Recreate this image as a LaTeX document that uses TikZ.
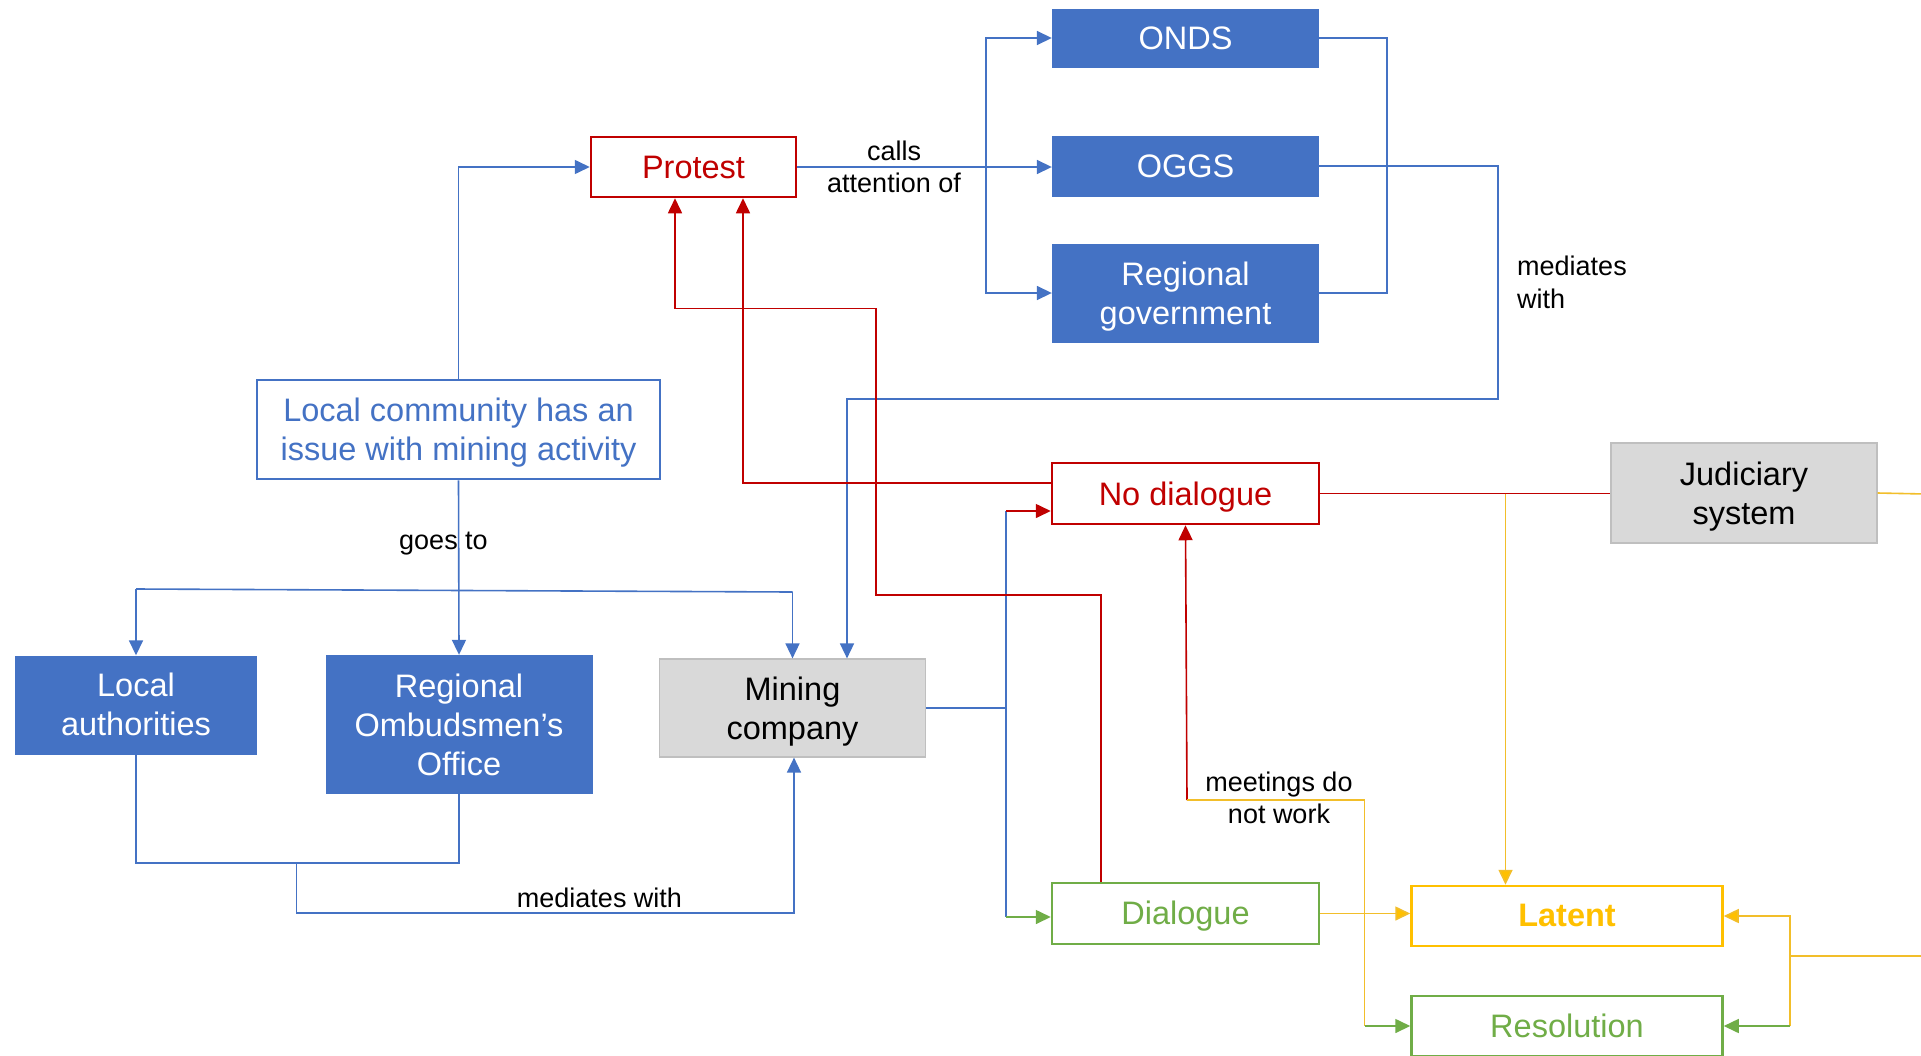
\documentclass[tikz,border=0pt]{standalone}
\usepackage{fontspec}
\setmainfont{Liberation Sans}
\usetikzlibrary{arrows.meta}
\definecolor{cblue}{HTML}{4472C4}
\definecolor{cred}{HTML}{C00000}
\definecolor{cgreen}{HTML}{70AD47}
\definecolor{cgold}{HTML}{FFC000}
\definecolor{cgoldline}{HTML}{F2BE2A}
\definecolor{cgray}{HTML}{D9D9D9}
\definecolor{cgrayb}{HTML}{BFBFBF}
\begin{document}
\begin{tikzpicture}[x=1pt,y=-1pt,
  box/.style={inner sep=0pt, align=center, font=\fontsize{32.5}{39}\selectfont},
  bluebox/.style={box, fill=cblue, text=white},
  redbox/.style={box, draw=cred, line width=2.5pt, fill=white, text=cred},
  greenbox/.style={box, draw=cgreen, line width=2.5pt, fill=white, text=cgreen},
  goldbox/.style={box, draw=cgold, line width=2.5pt, fill=white, text=cgold},
  graybox/.style={box, draw=cgrayb, line width=1.2pt, fill=cgray, text=black},
  outlinebox/.style={box, draw=cblue, line width=2.5pt, fill=white, text=cblue},
  lbl/.style={inner sep=0pt, align=center, font=\fontsize{27}{32.5}\selectfont, text=black},
  conn/.style={line width=1.6pt},
  tip/.style={-{Triangle[length=15pt,width=14pt]}},
  gtip/.style={-{Triangle[length=15pt,width=14pt,fill=cgold]}},
  bl/.style={conn, draw=cblue},
  rd/.style={conn, draw=cred},
  gn/.style={conn, draw=cgreen},
  gd/.style={conn, draw=cgoldline}]
\path[use as bounding box, fill=white] (0,0) rectangle (1921,1055);

% boxes
\node[bluebox, minimum width=267pt, minimum height=59pt] (onds) at (1185.5,38) {ONDS};
\node[bluebox, minimum width=267pt, minimum height=61pt] (oggs) at (1185.5,166) {OGGS};
\node[bluebox, minimum width=267pt, minimum height=99pt] (reggov) at (1185.5,293) {};
\node[box, text=white] (reggovT) at ([yshift=-3.5pt]reggov.center) {Regional\\government};
\node[redbox, minimum width=205pt, minimum height=60pt] (protest) at (693.5,167) {Protest};
\node[outlinebox, minimum width=403pt, minimum height=99pt] (community) at (458.5,429.5) {};
\node[box, text=cblue] (communityT) at ([yshift=-3.5pt]community.center) {Local community has an\\issue with mining activity};
\node[redbox, minimum width=267pt, minimum height=61pt] (nodialogue) at (1185.5,493.5) {};
\node[box, text=cred] (nodialogueT) at ([yshift=-3.5pt]nodialogue.center) {No dialogue};
\node[graybox, minimum width=266pt, minimum height=100pt] (judiciary) at (1744,493) {};
\node[box, text=black] (judiciaryT) at ([yshift=-3.5pt]judiciary.center) {Judiciary\\system};
\node[bluebox, minimum width=242pt, minimum height=99pt] (localauth) at (136,705) {};
\node[box, text=white] (localauthT) at ([yshift=1pt]localauth.center) {Local\\authorities};
\node[bluebox, minimum width=267pt, minimum height=139pt] (ombud) at (459,724.5) {Regional\\Ombudsmen’s\\Office};
\node[graybox, minimum width=266pt, minimum height=98pt] (mining) at (792.5,708) {};
\node[box, text=black] (miningT) at ([yshift=-3.5pt]mining.center) {Mining\\company};
\node[greenbox, minimum width=267pt, minimum height=61pt] (dialogue) at (1185.5,913.5) {};
\node[box, text=cgreen] (dialogueT) at ([yshift=-2.5pt]dialogue.center) {Dialogue};
\node[goldbox, minimum width=311pt, minimum height=60pt] (latent) at (1567,916) {};
\node[box, text=cgold] (latentT) at ([yshift=1pt]latent.center) {\textbf{Latent}};
\node[greenbox, minimum width=311pt, minimum height=60pt] (resolution) at (1567,1026) {Resolution};

% labels
\node[lbl] (lcalls) at (894,167) {calls\\attention of};
\node[lbl, anchor=west, align=left] (lmed1) at (1517,282.5) {mediates\\with};
\node[lbl] (lgoes) at (443.5,544) {goes to};
\node[lbl] (lmed2) at (599.5,898) {mediates with};
\node[lbl] (lmeet) at (1279,798) {meetings do\\not work};

% coordinates
\coordinate (busL) at (986,167);
\coordinate (c1) at (1498,399);
\coordinate (r1) at (876,595);
\coordinate (r2) at (675,308.6);
\coordinate (ga) at (136,589);
\coordinate (gb) at (792.5,592);
\coordinate (b1) at (296.4,863);
\coordinate (b2) at (794,913);
\coordinate (mb) at (1006,708);
\coordinate (nd) at ([yshift=-17.5pt]nodialogue.west);
\coordinate (dl) at ([yshift=-3.5pt]dialogue.west);
\coordinate (jl) at ([xshift=-61.5pt]latent.north);
\coordinate (m0) at (1187,800);
\coordinate (m1) at (1364.5,800);
\coordinate (lr) at (1790,956);
\coordinate (edgeJ) at (1925,494);
\coordinate (edgeL) at (1925,956);

% blue connectors (top)
\draw[bl, tip] (community.north) |- (protest.west);
\draw[bl, tip] (protest.east) -- (protest.east -| oggs.west);
\draw[bl, tip] (busL) |- (onds.west);
\draw[bl, tip] (busL) |- (reggov.west);
\draw[bl] (onds.east) -- ++(68,0) |- (reggov.east);
\draw[bl, tip] (oggs.east) -| (c1) -| ([xshift=54.5pt]mining.north);

% blue connectors (bottom left)
\draw[bl, tip] (community.south) -- (ombud.north);
\draw[bl] (gb) -- (ga);
\draw[bl, tip] (ga) -- (localauth.north);
\draw[bl, tip] (gb) -- (mining.north);
\draw[bl] (localauth.south) |- (b1 -| ombud.south) -- (ombud.south);
\draw[bl, tip] (b1) |- (b2) -- (b2 |- mining.south);

% mining company to dialogue / no dialogue
\draw[bl] (mining.east) -- (mb);
\draw[bl] (mb |- nd) -- (mb |- dl);
\draw[rd, tip] (mb |- nd) -- (nd);
\draw[gn, tip] (mb |- dl) -- (dl);

% red connectors to protest
\draw[rd, tip] ([xshift=-84.5pt]dialogue.north) |- (r1) |- (r2) -- (r2 |- protest.south);
\draw[rd, tip] ([yshift=10.5pt]nodialogue.west) -| ([xshift=49.5pt]protest.south);

% no dialogue / judiciary
\draw[rd] (nodialogue.east) -- (nodialogue.east -| judiciary.west);
\draw[gd, gtip] (jl |- nodialogue.east) -- (jl);
\draw[gd] (judiciary.east) -- (edgeJ);

% dialogue outcomes
\draw[gd, gtip] (dialogue.east) -- (dialogue.east -| latent.west);
\draw[rd, tip] (m0) -- (nodialogue.south);
\draw[gd] (m0) -- (m1) -- (m1 |- resolution.west);
\draw[gn, tip] (m1 |- resolution.west) -- (resolution.west);

% right side
\draw[gd] (edgeL) -- (lr);
\draw[gd, gtip] (lr) |- (latent.east);
\draw[gd] (lr) -- (lr |- resolution.east);
\draw[gn, tip] (lr |- resolution.east) -- (resolution.east);
\end{tikzpicture}
\end{document}
